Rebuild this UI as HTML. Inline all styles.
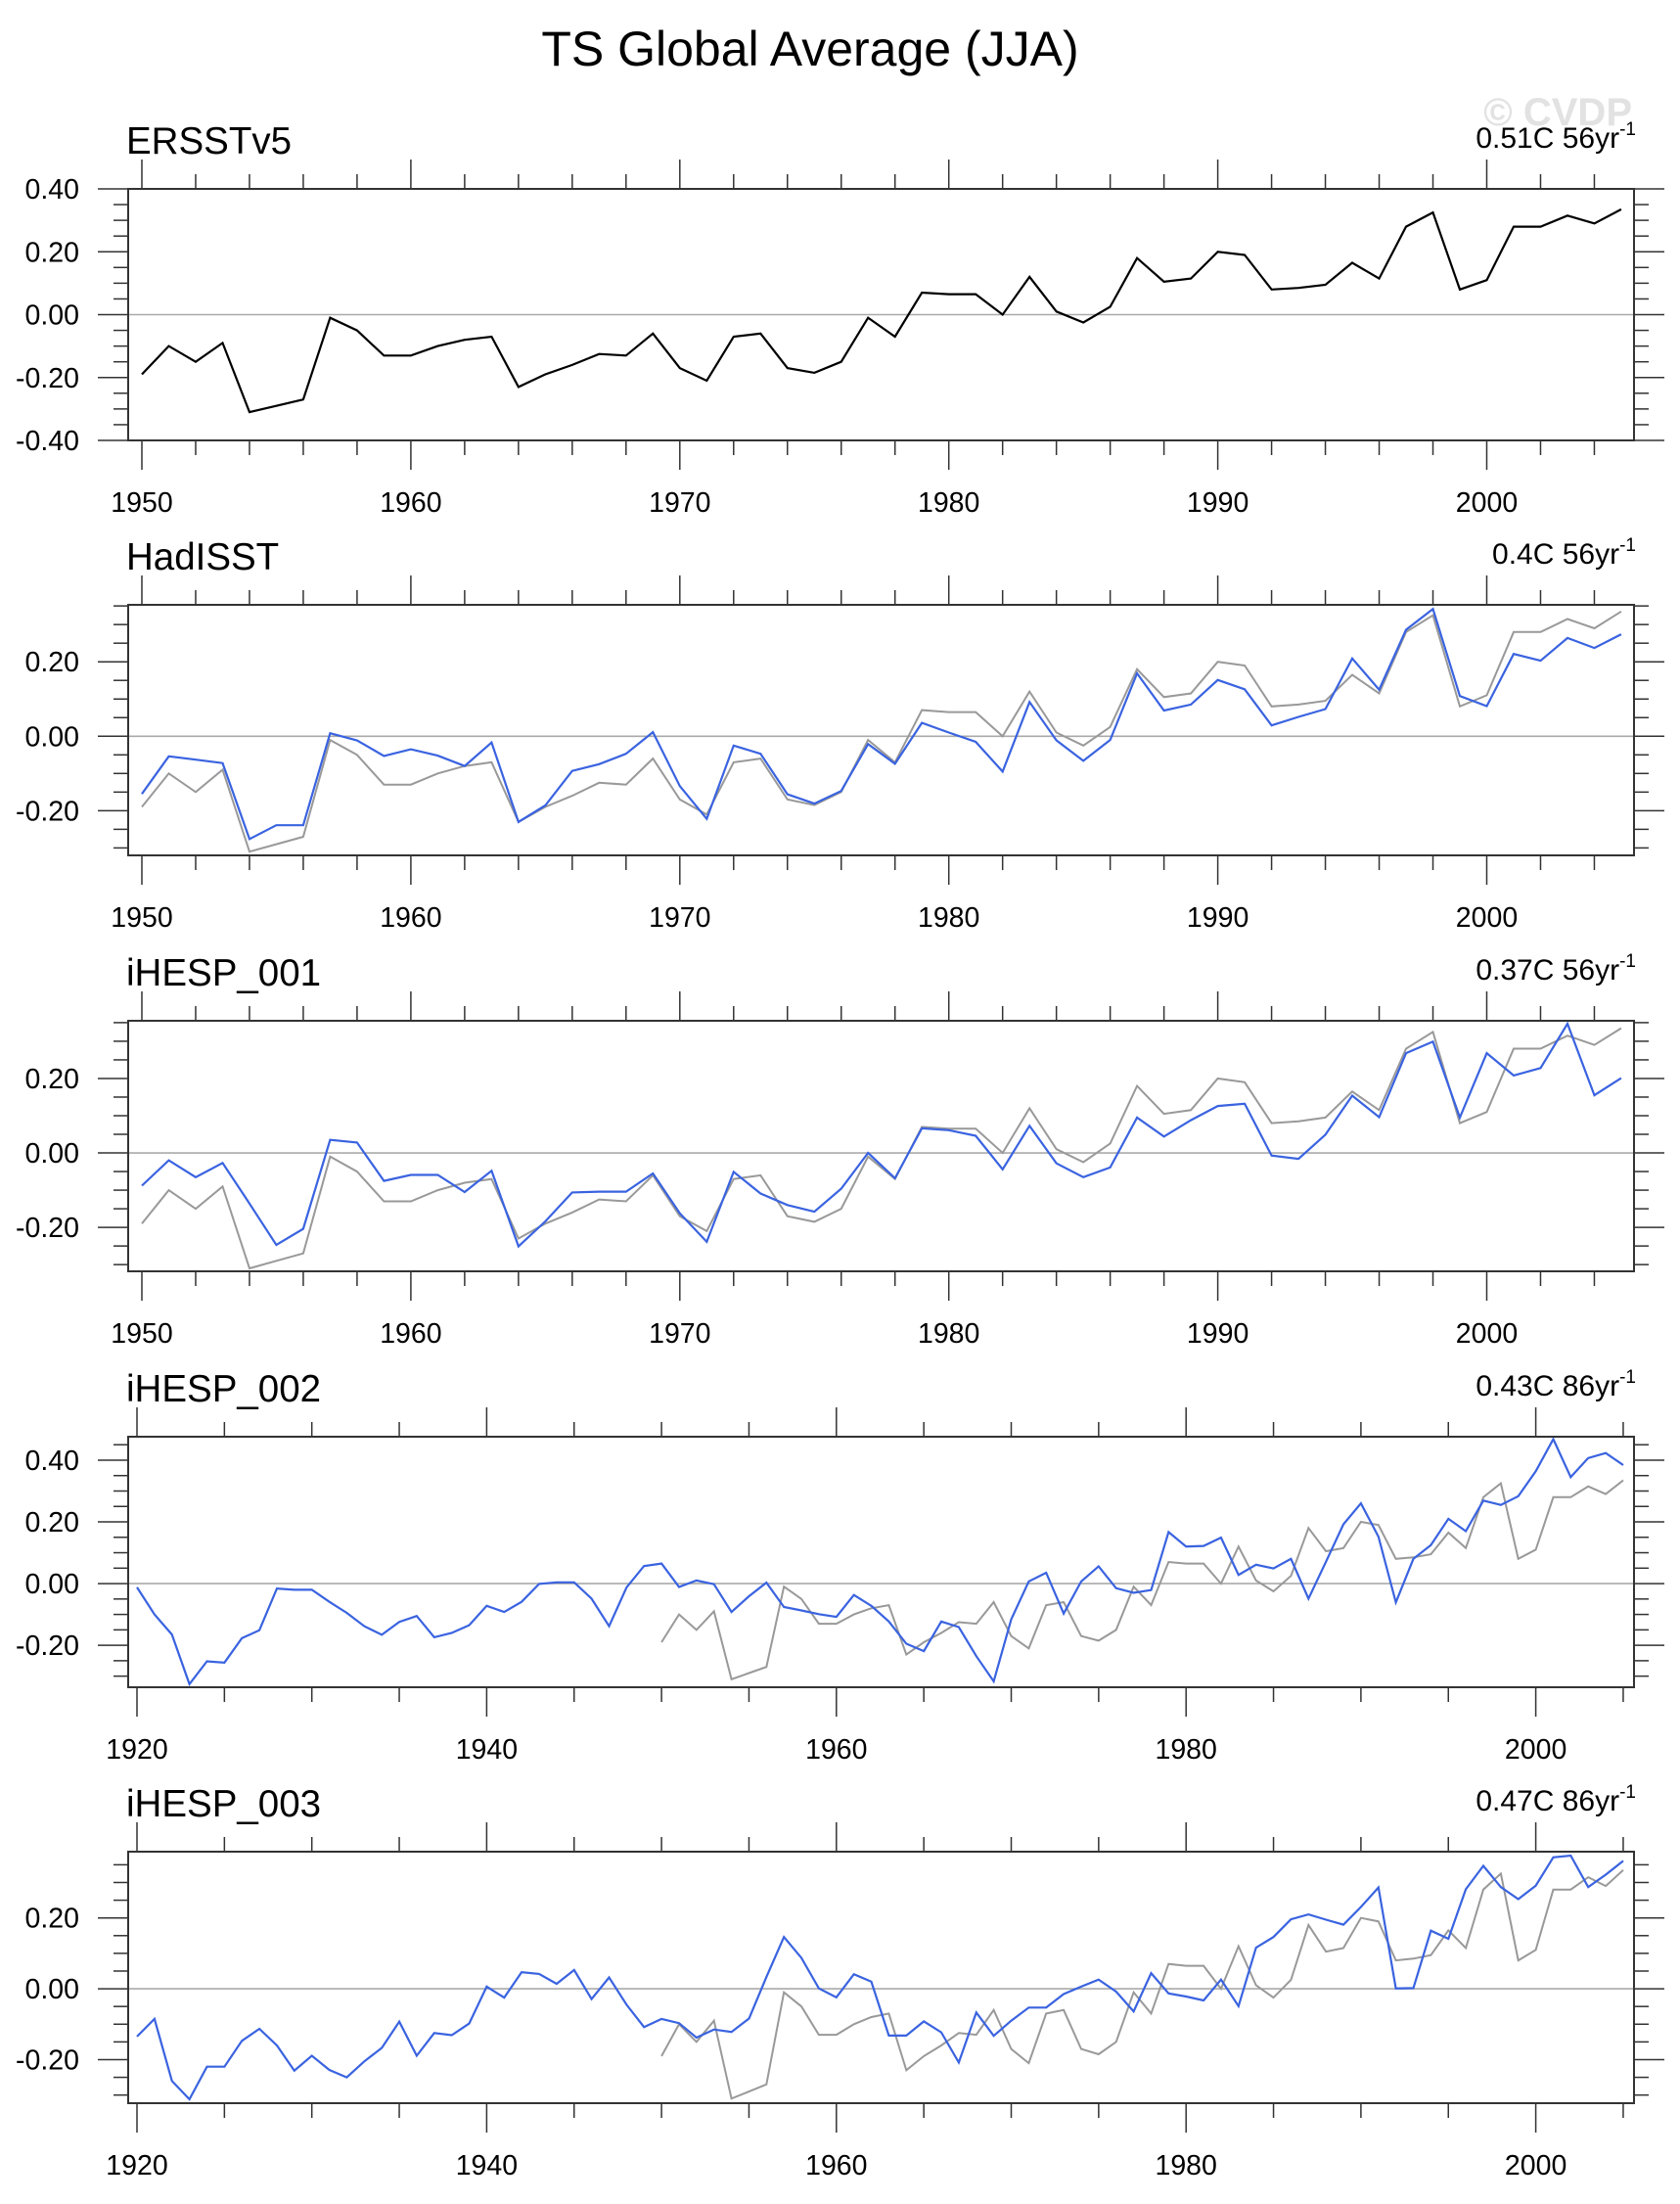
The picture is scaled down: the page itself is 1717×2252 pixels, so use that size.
<!DOCTYPE html>
<html><head><meta charset="utf-8"><style>
html,body{margin:0;padding:0;background:#fff;}
svg{display:block;font-family:"Liberation Sans",Arial,sans-serif;}
</style></head><body>
<svg id="chart" width="1717" height="2252" viewBox="0 0 1717 2252" xmlns="http://www.w3.org/2000/svg">
<rect width="1717" height="2252" fill="#fff"/>
<text x="828" y="67" font-size="50" text-anchor="middle" fill="#000">TS Global Average (JJA)</text>
<text x="1668" y="128" font-size="40" font-weight="bold" text-anchor="end" fill="#e2e2e2">© CVDP</text>
</svg>
<script>
const obsYears = [1950,1951,1952,1953,1954,1955,1956,1957,1958,1959,1960,1961,1962,1963,1964,1965,1966,1967,1968,1969,1970,1971,1972,1973,1974,1975,1976,1977,1978,1979,1980,1981,1982,1983,1984,1985,1986,1987,1988,1989,1990,1991,1992,1993,1994,1995,1996,1997,1998,1999,2000,2001,2002,2003,2004,2005];
const ersstValues = [-0.19,-0.10,-0.15,-0.09,-0.31,-0.29,-0.27,-0.01,-0.05,-0.13,-0.13,-0.10,-0.08,-0.07,-0.23,-0.19,-0.16,-0.125,-0.13,-0.06,-0.17,-0.21,-0.07,-0.06,-0.17,-0.185,-0.15,-0.01,-0.07,0.07,0.065,0.065,0.00,0.12,0.01,-0.025,0.025,0.18,0.105,0.115,0.20,0.19,0.08,0.085,0.095,0.165,0.115,0.28,0.325,0.08,0.11,0.28,0.28,0.315,0.29,0.335];
const hadisstValues = [-0.155,-0.054,-0.063,-0.072,-0.276,-0.239,-0.239,0.008,-0.011,-0.053,-0.035,-0.052,-0.080,-0.017,-0.230,-0.186,-0.093,-0.075,-0.047,0.011,-0.134,-0.222,-0.025,-0.047,-0.156,-0.181,-0.147,-0.021,-0.074,0.036,0.010,-0.015,-0.095,0.092,-0.011,-0.066,-0.010,0.169,0.069,0.085,0.151,0.126,0.029,0.052,0.073,0.209,0.125,0.286,0.342,0.108,0.081,0.221,0.203,0.264,0.237,0.274];
const ihesp001Values = [-0.088,-0.020,-0.065,-0.027,-0.136,-0.247,-0.204,0.035,0.028,-0.075,-0.059,-0.059,-0.105,-0.048,-0.251,-0.184,-0.106,-0.104,-0.104,-0.055,-0.162,-0.239,-0.051,-0.109,-0.140,-0.158,-0.096,0.000,-0.068,0.066,0.061,0.046,-0.044,0.073,-0.028,-0.065,-0.039,0.095,0.044,0.088,0.126,0.132,-0.007,-0.016,0.049,0.154,0.096,0.268,0.299,0.095,0.268,0.208,0.228,0.347,0.155,0.201];
const modelYears = [1920,1921,1922,1923,1924,1925,1926,1927,1928,1929,1930,1931,1932,1933,1934,1935,1936,1937,1938,1939,1940,1941,1942,1943,1944,1945,1946,1947,1948,1949,1950,1951,1952,1953,1954,1955,1956,1957,1958,1959,1960,1961,1962,1963,1964,1965,1966,1967,1968,1969,1970,1971,1972,1973,1974,1975,1976,1977,1978,1979,1980,1981,1982,1983,1984,1985,1986,1987,1988,1989,1990,1991,1992,1993,1994,1995,1996,1997,1998,1999,2000,2001,2002,2003,2004,2005];
const ihesp002Values = [-0.012,-0.10,-0.165,-0.326,-0.252,-0.256,-0.177,-0.151,-0.016,-0.020,-0.020,-0.059,-0.095,-0.138,-0.166,-0.124,-0.105,-0.174,-0.160,-0.135,-0.072,-0.092,-0.059,-0.001,0.004,0.004,-0.049,-0.138,-0.012,0.057,0.065,-0.011,0.010,-0.002,-0.092,-0.041,0.003,-0.076,-0.087,-0.099,-0.108,-0.037,-0.072,-0.123,-0.195,-0.219,-0.123,-0.141,-0.235,-0.317,-0.116,0.007,0.035,-0.097,0.007,0.056,-0.015,-0.030,-0.021,0.167,0.120,0.122,0.149,0.028,0.061,0.049,0.080,-0.049,0.071,0.192,0.260,0.152,-0.061,0.080,0.125,0.210,0.170,0.269,0.255,0.283,0.364,0.468,0.345,0.407,0.423,0.384];
const ihesp003Values = [-0.135,-0.085,-0.260,-0.312,-0.220,-0.220,-0.147,-0.113,-0.160,-0.231,-0.189,-0.229,-0.250,-0.205,-0.167,-0.093,-0.189,-0.125,-0.131,-0.098,0.006,-0.025,0.047,0.042,0.014,0.053,-0.029,0.032,-0.045,-0.108,-0.085,-0.097,-0.138,-0.115,-0.122,-0.084,0.033,0.146,0.087,0.001,-0.024,0.041,0.020,-0.132,-0.132,-0.092,-0.123,-0.208,-0.067,-0.133,-0.090,-0.053,-0.053,-0.015,0.006,0.026,-0.008,-0.064,0.044,-0.013,-0.022,-0.033,0.026,-0.049,0.116,0.146,0.196,0.210,0.195,0.181,0.231,0.286,0.001,0.002,0.164,0.141,0.281,0.347,0.287,0.253,0.291,0.371,0.376,0.287,0.322,0.361];
const panelTitles = ["ERSSTv5","HadISST","iHESP_001","iHESP_002","iHESP_003"];
const trendLabels = ["0.51C 56yr","0.4C 56yr","0.37C 56yr","0.43C 86yr","0.47C 86yr"];
const yTickLabels1 = ["0.40","0.20","0.00","-0.20","-0.40"];
const yTickLabels2 = ["0.20","0.00","-0.20"];
const yTickLabels4 = ["0.40","0.20","0.00","-0.20"];

const NS="http://www.w3.org/2000/svg";
const svg=document.getElementById('chart');
function mk(tag,attrs,parent){const e=document.createElementNS(NS,tag);for(const k in attrs)e.setAttribute(k,attrs[k]);(parent||svg).appendChild(e);return e;}

const X0=131,X1=1670;
const panels=[
 {top:193,bot:450,ymin:-0.4,ymax:0.4,x0year:1950,x0px:145,pxyr:27.49,major:10,minor:2,yl:yTickLabels1,obs:true,blue:null,byears:obsYears},
 {top:618,bot:874,ymin:-0.320,ymax:0.353,x0year:1950,x0px:145,pxyr:27.49,major:10,minor:2,yl:yTickLabels2,blue:hadisstValues,byears:obsYears},
 {top:1043,bot:1299,ymin:-0.318,ymax:0.355,x0year:1950,x0px:145,pxyr:27.49,major:10,minor:2,yl:yTickLabels2,blue:ihesp001Values,byears:obsYears},
 {top:1468,bot:1724,ymin:-0.336,ymax:0.476,x0year:1920,x0px:140,pxyr:17.87,major:20,minor:5,yl:yTickLabels4,blue:ihesp002Values,byears:modelYears},
 {top:1892,bot:2149,ymin:-0.323,ymax:0.387,x0year:1920,x0px:140,pxyr:17.87,major:20,minor:5,yl:yTickLabels2,blue:ihesp003Values,byears:modelYears}
];

panels.forEach((p,i)=>{
 const g=mk('g',{});
 
 
 const xs=y=>p.x0px+(y-p.x0year)*p.pxyr;
 const ys=v=>p.bot-(v-p.ymin)/(p.ymax-p.ymin)*(p.bot-p.top);
 const t=mk('text',{x:129,y:p.top-36,'font-size':38.5,fill:'#000'},g);t.textContent=panelTitles[i];
 
 
 const tr=mk('text',{x:1672,y:p.top-42,'font-size':30,fill:'#000','text-anchor':'end'},g);
 tr.textContent=trendLabels[i];
 const sup=mk('tspan',{'font-size':19,dy:-13},tr);sup.textContent='-1';
 
 
 const z=mk('line',{x1:X0,x2:X1,y1:ys(0),y2:ys(0),stroke:'#aaa','stroke-width':1.6},g);
 
 
 const ticks=mk('g',{stroke:'#333','stroke-width':1.5},g);
 
 
 for(let k=Math.ceil(p.ymin/0.05-1e-6);k*0.05<=p.ymax+1e-6;k++){
  const v=k*0.05,yy=ys(v),isMaj=(Math.abs(Math.round(k)%4)===0);
  const L=isMaj?31:15;
  mk('line',{x1:X0-L,x2:X0,y1:yy,y2:yy},ticks);
  mk('line',{x1:X1,x2:X1+L,y1:yy,y2:yy},ticks);
 }
 p.yl.forEach(s=>{
  const v=parseFloat(s);const tt=mk('text',{x:81,y:ys(v)+10,'font-size':28.5,'text-anchor':'end',fill:'#000'},g);tt.textContent=s;
  
  
 });
 const xt=mk('g',{stroke:'#333','stroke-width':1.5},g);
 
 
 for(let yr=p.x0year;xs(yr)<=X1;yr+=p.minor){
  const xx=xs(yr),isMaj=((yr-p.x0year)%p.major===0),L=isMaj?30:15;
  mk('line',{x1:xx,x2:xx,y1:p.top-L,y2:p.top},xt);
  mk('line',{x1:xx,x2:xx,y1:p.bot,y2:p.bot+L},xt);
  if(isMaj){const lt=mk('text',{x:xx,y:p.bot+73,'font-size':28.5,'text-anchor':'middle',fill:'#000',stroke:'none'},g);lt.textContent=String(yr);
   
   }
 }
 const opts=obsYears.map((y,j)=>xs(y).toFixed(1)+','+ys(ersstValues[j]).toFixed(1)).join(' ');
 const ol=mk('polyline',{points:opts,fill:'none',stroke:p.obs?'#000':'#999','stroke-width':p.obs?2.2:2,'stroke-linejoin':'miter'},g);
 
 
 if(p.blue){
  const bp=p.byears.map((y,j)=>xs(y).toFixed(1)+','+ys(p.blue[j]).toFixed(1)).join(' ');
  const bl=mk('polyline',{points:bp,fill:'none',stroke:'#3a63e0','stroke-width':2.2},g);
  
  
 }
 const fr=mk('rect',{x:X0,y:p.top,width:X1-X0,height:p.bot-p.top,fill:'none',stroke:'#333','stroke-width':2},g);
 
 
});
</script>
</body></html>
